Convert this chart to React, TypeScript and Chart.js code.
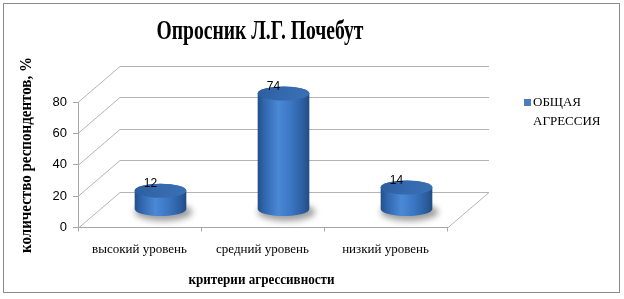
import React, { useEffect, useRef } from "react";
import { Chart, registerables } from "chart.js";

Chart.register(...registerables);

const chartTitle = "Опросник Л.Г. Почебут";
const categories = ["высокий уровень", "средний уровень", "низкий уровень"];
const aggressionValues = [12, 74, 14];
const seriesLabel = "ОБЩАЯ АГРЕССИЯ";
const legendLines = ["ОБЩАЯ", "АГРЕССИЯ"];
const yTicks = [0, 20, 40, 60, 80];
const yAxisTitle = "количество респондентов, %";
const xAxisTitle = "критерии агрессивности";

const W = 624;
const H = 299;
const DX = 42; // depth offset (x)
const DY = -36; // depth offset (y)
const RY = 7; // cylinder ellipse vertical radius
const GRID = "#b4b4b4";
const AXIS = "#a6a6a6";
const SERIF = "'Liberation Serif', 'Times New Roman', serif";
const SANS = "'Liberation Sans', Arial, sans-serif";

const threeDPlugin = {
  id: "threeD",
  beforeDatasetsDraw(chart: any) {
    const { ctx, chartArea, scales } = chart;
    const y = scales.y;
    ctx.save();
    ctx.strokeStyle = GRID;
    ctx.lineWidth = 1;
    y.ticks.forEach((t: any) => {
      const py = Math.round(y.getPixelForValue(t.value)) + 0.5;
      ctx.beginPath();
      ctx.moveTo(chartArea.left, py);
      ctx.lineTo(chartArea.left + DX, py + DY);
      ctx.lineTo(chartArea.right + DX, py + DY);
      ctx.stroke();
    });
    const p0 = Math.round(y.getPixelForValue(0)) + 0.5;
    ctx.beginPath();
    ctx.moveTo(chartArea.right, p0);
    ctx.lineTo(chartArea.right + DX, p0 + DY);
    ctx.stroke();
    ctx.restore();
  },
  afterDatasetsDraw(chart: any) {
    const { ctx } = chart;
    const meta = chart.getDatasetMeta(0);
    const values = chart.data.datasets[0].data;
    meta.data.forEach((bar: any, i: number) => {
      const { x, y, base, width } = bar.getProps(["x", "y", "base", "width"], true);
      const cx = x + DX / 2;
      const top = y + DY / 2;
      const bot = base + DY / 2;
      const rx = width / 2;

      // shadow
      ctx.save();
      ctx.filter = "blur(3px)";
      ctx.fillStyle = "rgba(0,0,0,0.38)";
      ctx.beginPath();
      ctx.ellipse(cx + 3, bot + 3, rx + 3, RY + 2, 0, 0, Math.PI * 2);
      ctx.fill();
      ctx.restore();

      // body
      ctx.save();
      const g = ctx.createLinearGradient(cx - rx, 0, cx + rx, 0);
      g.addColorStop(0, "#234f8a");
      g.addColorStop(0.12, "#2f65ab");
      g.addColorStop(0.4, "#4a89d6");
      g.addColorStop(0.65, "#3a76c2");
      g.addColorStop(0.9, "#2a5b9c");
      g.addColorStop(1, "#214b84");
      ctx.fillStyle = g;
      ctx.beginPath();
      ctx.moveTo(cx - rx, top);
      ctx.lineTo(cx - rx, bot);
      ctx.ellipse(cx, bot, rx, RY, 0, Math.PI, 0, true);
      ctx.lineTo(cx + rx, top);
      ctx.ellipse(cx, top, rx, RY, 0, 0, Math.PI, true);
      ctx.closePath();
      ctx.fill();

      // top cap
      const tg = ctx.createLinearGradient(cx - rx, top - RY, cx + rx, top + RY);
      tg.addColorStop(0, "#2c5e9f");
      tg.addColorStop(0.5, "#3569ae");
      tg.addColorStop(1, "#3a70b6");
      ctx.fillStyle = tg;
      ctx.beginPath();
      ctx.ellipse(cx, top, rx, RY, 0, 0, Math.PI * 2);
      ctx.fill();
      ctx.restore();

      // value label
      ctx.save();
      ctx.font = `12px ${SANS}`;
      ctx.fillStyle = "#000";
      ctx.textAlign = "center";
      ctx.textBaseline = "middle";
      ctx.fillText(String(values[i]), cx - 10, top - RY);
      ctx.restore();
    });
  },
  afterDraw(chart: any) {
    const { ctx, chartArea } = chart;
    ctx.save();
    // outer border
    ctx.strokeStyle = "#8a8a8a";
    ctx.lineWidth = 1;
    ctx.strokeRect(3.5, 3.5, W - 8, H - 10);

    // title
    ctx.fillStyle = "#000";
    ctx.textAlign = "center";
    ctx.textBaseline = "middle";
    ctx.font = `bold 27px ${SERIF}`;
    ctx.fillText(chartTitle, 260, 32, 207);

    // x axis title
    ctx.font = `bold 15px ${SERIF}`;
    ctx.fillText(xAxisTitle, (chartArea.left + chartArea.right) / 2 - 1, 280, 146);

    // y axis title
    ctx.save();
    ctx.translate(27, 155);
    ctx.rotate(-Math.PI / 2);
    ctx.font = `bold 16px ${SERIF}`;
    ctx.fillText(yAxisTitle, 0, 0, 196);
    ctx.restore();

    // legend
    const lx = chartArea.right + 77;
    ctx.fillStyle = "#4a7ebb";
    ctx.fillRect(lx, 99, 7, 7);
    ctx.fillStyle = "#000";
    ctx.textAlign = "left";
    ctx.font = `13px ${SERIF}`;
    ctx.fillText(legendLines[0], lx + 9, 103, 48);
    ctx.fillText(legendLines[1], lx + 9, 122, 68);
    ctx.restore();
  },
};

export default function App() {
  const ref = useRef<HTMLCanvasElement | null>(null);

  useEffect(() => {
    if (!ref.current) return;
    const chart = new Chart(ref.current, {
      type: "bar",
      data: {
        labels: categories,
        datasets: [
          {
            label: seriesLabel,
            data: aggressionValues,
            backgroundColor: "rgba(0,0,0,0)",
            borderWidth: 0,
            categoryPercentage: 1,
            barPercentage: 0.42,
          },
        ],
      },
      options: {
        responsive: false,
        animation: false,
        devicePixelRatio: 1,
        layout: { padding: { left: 0, right: 177, top: 102, bottom: 0 } },
        plugins: {
          legend: { display: false },
          title: { display: false },
          tooltip: { enabled: false },
        },
        scales: {
          x: {
            grid: { offset: true, drawOnChartArea: false, tickLength: 4, color: AXIS },
            border: { color: AXIS },
            ticks: { font: { family: SERIF, size: 13 }, color: "#000", padding: 10, maxRotation: 0 },
            afterFit: (s: any) => {
              s.height = 71.5;
            },
          },
          y: {
            min: 0,
            max: 80,
            afterBuildTicks: (s: any) => {
              s.ticks = yTicks.map((v) => ({ value: v }));
            },
            ticks: { font: { family: SANS, size: 13 }, color: "#000", padding: 6 },
            grid: { drawOnChartArea: false, tickLength: 5, color: AXIS },
            border: { color: AXIS },
            afterFit: (s: any) => {
              s.width = 78;
            },
          },
        },
      },
      plugins: [threeDPlugin],
    });
    return () => chart.destroy();
  }, []);

  return (
    <div style={{ position: "absolute", left: 0, top: 0, width: W, height: H, background: "#fff" }}>
      <canvas ref={ref} width={W} height={H} style={{ display: "block" }} />
    </div>
  );
}
